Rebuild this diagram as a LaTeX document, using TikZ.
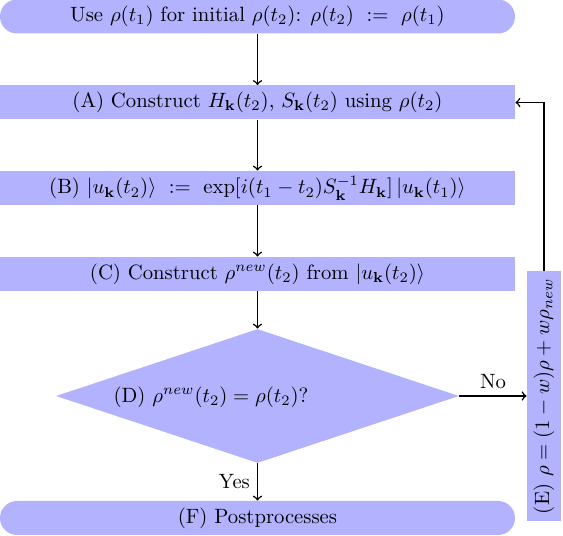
\documentclass[tikz,border=0pt]{standalone}
\usetikzlibrary{shapes.geometric,shapes.misc}
\def\px{0.4831pt}
\begin{document}
\begin{tikzpicture}[x=\px,y=-\px,
  box/.style={fill=blue!30, minimum width=515*\px, minimum height=34*\px, inner sep=0pt},
  term/.style={rounded rectangle, fill=blue!30, minimum width=515*\px, minimum height=34*\px, inner sep=0pt},
  decision/.style={diamond, fill=blue!30, minimum width=403*\px, minimum height=134*\px, inner sep=0pt},
  conn/.style={->, line width=0.7pt}]
\useasboundingbox (0,0) rectangle (563,536);
\node[term] (top) at (257.5,16.5) {Use $\rho(t_1)$ for initial $\rho(t_2)$: $\rho(t_2)\ :=\ \rho(t_1)$};
\node[box] (A) at (257.5,102.5) {(A) Construct $H_{\mathbf{k}}(t_2)$, $S_{\mathbf{k}}(t_2)$ using $\rho(t_2)$};
\node[box] (B) at (257.5,188) {(B) $|u_{\mathbf{k}}(t_2)\rangle\ :=\ \exp[i(t_1-t_2)S_{\mathbf{k}}^{-1}H_{\mathbf{k}}]\,|u_{\mathbf{k}}(t_1)\rangle$};
\node[box] (C) at (257.5,274) {(C) Construct $\rho^{new}(t_2)$ from $|u_{\mathbf{k}}(t_2)\rangle$};
\node[decision] (D) at (257.5,396) {};
\node (Dt) at (211,397) {(D) $\rho^{new}(t_2)=\rho(t_2)$?};
\node[term] (F) at (257.5,518) {(F) Postprocesses};
\node[fill=blue!30, rotate=90, minimum width=250*\px, minimum height=34*\px, inner sep=0pt] (E) at (544,396) {(E) $\rho=(1-w)\rho+w\rho_{new}$};
\draw[conn] (A.north |- top.south) -- (A.north);
\draw[conn] (A.south) -- (B.north);
\draw[conn] (B.south) -- (C.north);
\draw[conn] (C.south) -- (D.north);
\draw[conn] (D.east) -- node[above] {No} (E.north);
\draw[conn] (D.south) -- node[left] {Yes} (D.south |- F.north);
\draw[conn] (E.east) -- (E.east |- A.east) -- (A.east);
\end{tikzpicture}
\end{document}
